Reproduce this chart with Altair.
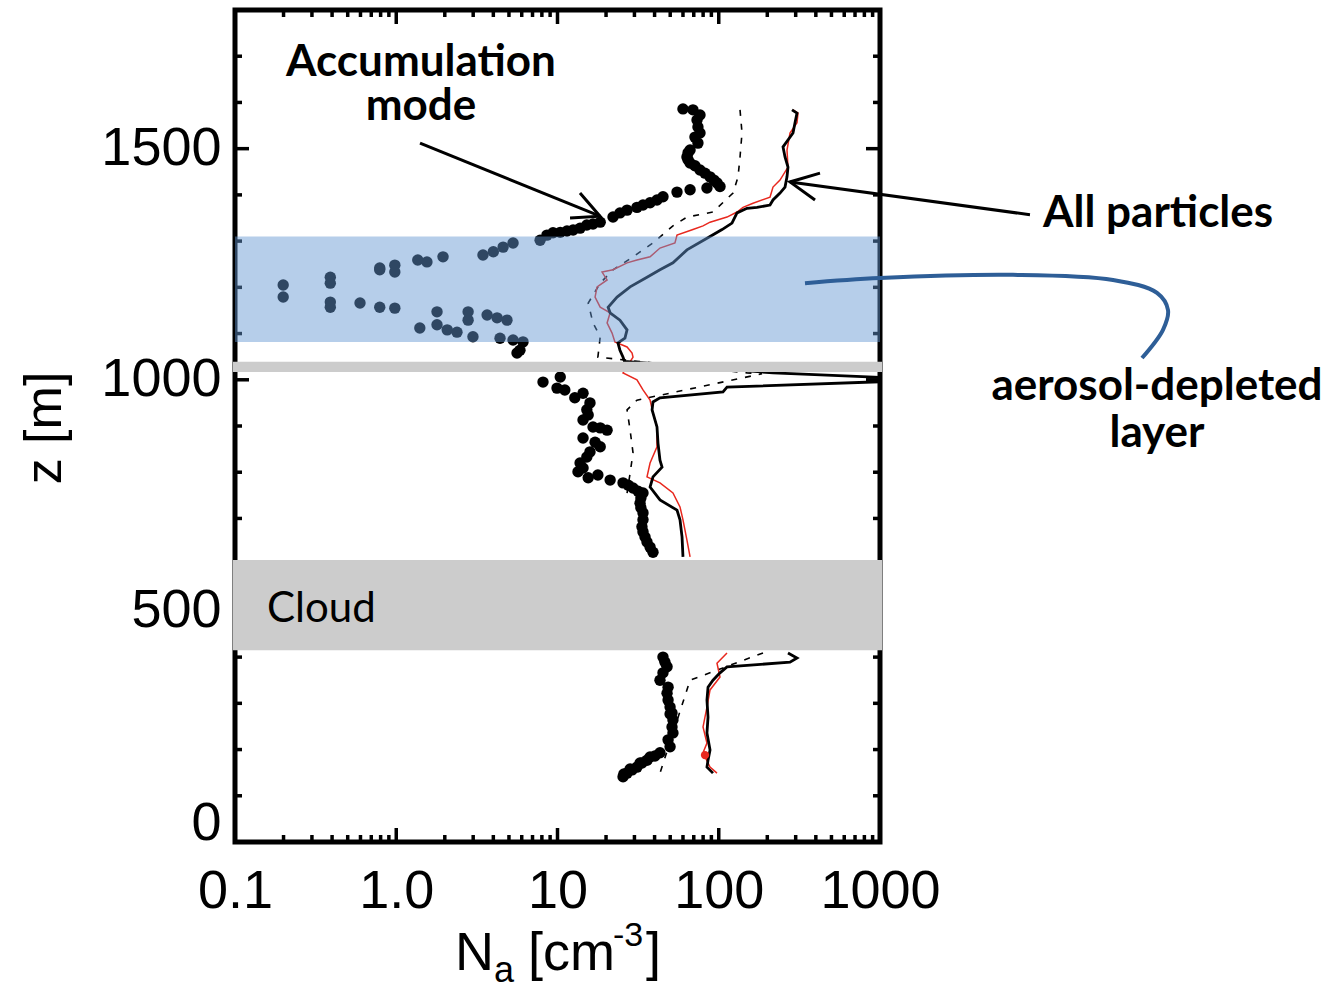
import altair as alt
import pandas as pd

W, H = 645, 832

# ---------------- data ----------------
# Accumulation-mode concentration (big dots)
acc_x = [60.0, 69.2, 76.5, 73.3, 74.3, 76.5, 71.2, 74.3, 66.4, 64.5,
         63.5, 64.5, 66.4, 71.2, 76.5, 82.2, 88.3, 93.4, 97.5, 101.8,
         84.5, 66.4, 55.1, 45.1, 41.4, 37.5, 33.9, 31.1, 27.0, 24.4,
         22.1, 18.4, 16.6, 15.2, 13.8, 12.5, 11.45, 10.4, 9.38, 8.6,
         7.8, 5.3, 4.6, 4.0, 3.45, 1.95, 1.55, 1.36, 0.98, 0.98,
         0.79, 0.79, 0.39, 0.39, 0.199, 0.199, 0.39, 0.39, 0.596, 0.79,
         0.98, 1.79, 1.79, 1.40, 2.07, 2.38, 2.79, 2.79, 2.99, 3.66,
         4.22, 4.86, 4.40, 5.3, 6.11, 5.85, 5.61,
         8.13, 10.4, 9.93, 11.1, 14.4, 12.8, 15.9, 15.2, 15.5, 14.4,
         16.6, 18.4, 20.3, 14.4, 17.1, 18.4, 15.9, 15.2, 13.8, 14.4,
         13.4, 17.8, 15.5, 21.2, 25.5, 27.5, 29.4, 31.6, 33.9, 32.9,
         32.5, 32.9, 33.9, 33.9, 33.4, 33.9, 34.9, 35.9, 37.5, 39.1,
         45.1, 46.4, 47.8, 45.1, 43.2, 48.5, 47.8, 48.5, 49.9, 49.9,
         51.3, 52.0, 51.3, 52.0, 48.5, 49.9, 43.2, 40.2, 37.5, 35.9,
         33.4, 32.5, 31.1, 29.0, 28.2, 27.0, 25.8, 25.5]
acc_z = [1586, 1584, 1573, 1562, 1547, 1534, 1525, 1512, 1497, 1491,
         1482, 1476, 1469, 1463, 1454, 1447, 1439, 1432, 1426, 1418,
         1415, 1411, 1406, 1396, 1389, 1383, 1378, 1373, 1367, 1361,
         1352, 1341, 1337, 1335, 1328, 1324, 1322, 1319, 1318, 1313,
         1302, 1296, 1287, 1277, 1270, 1266, 1255, 1259, 1248, 1233,
         1242, 1238, 1222, 1209, 1205, 1179, 1168, 1157, 1166, 1157,
         1155, 1147, 1119, 1112, 1108, 1103, 1147, 1129, 1093, 1140,
         1134, 1129, 1090, 1086, 1082, 1064, 1058,
         995, 1006, 982, 978, 971, 961, 950, 935, 924, 913,
         898, 896, 891, 874, 865, 855, 844, 833, 820, 809,
         801, 794, 788, 783, 777, 772, 766, 759, 755, 744,
         733, 723, 712, 697, 682, 671, 660, 649, 638, 627,
         400, 389, 379, 366, 350, 335, 322, 307, 292, 277,
         279, 264, 249, 236, 221, 206, 193, 186, 184, 177,
         171, 171, 162, 156, 158, 149, 147, 141]

# All particles, solid black line (above cloud / below cloud)
all_up_x = [284.6, 305.7, 297.1, 288.8, 250.3, 257.6, 268.8, 265.0, 257.6, 239.8,
            217.0, 207.9, 172.7, 149.7, 129.8, 120.8, 104.8, 88.3, 63.5, 52.0,
            43.2, 35.9, 28.2, 23.4, 20.6, 21.2, 24.4, 27.0, 26.2, 23.7,
            24.4, 25.5, 26.0, 217.0, 2190.0, 112.5, 106.3, 43.2, 39.1, 38.6,
            41.4, 42.0, 43.2, 44.5, 39.1, 37.5, 43.2, 55.1, 57.5, 59.2, 60.0]
all_up_z = [1584, 1577, 1556, 1534, 1504, 1482, 1460, 1439, 1417, 1404,
            1389, 1378, 1373, 1371, 1361, 1339, 1325, 1310, 1281, 1253,
            1238, 1222, 1201, 1179, 1157, 1145, 1129, 1108, 1090, 1080,
            1064, 1049, 1040, 1015, 1000, 984, 974, 961, 952, 935,
            898, 863, 826, 811, 790, 768, 740, 718, 697, 660, 617]
all_lo_x = [268.8, 305.7, 276.6, 112.5, 101.8, 92.1, 85.8, 84.5, 85.8, 84.5,
            88.3, 85.8, 84.5, 92.1]
all_lo_z = [409, 398, 389, 379, 366, 350, 335, 307, 270, 236,
            199, 177, 162, 149]

# Second total-concentration profile, thin red line
red_up_x = [288.8, 310.1, 305.7, 276.6, 265.0, 268.8, 239.8, 217.0, 207.9, 163.1,
            141.4, 129.8, 112.5, 88.3, 79.9, 69.2, 55.1, 53.5, 43.2, 37.5,
            31.1, 27.0, 22.1, 18.9, 20.3, 17.6, 17.1, 18.4, 21.2, 20.3,
            21.8, 22.7, 27.0, 29.0, 29.4, 25.5, 31.1, 33.9, 37.5, 39.1,
            41.4, 41.4, 37.5, 35.9, 43.2, 52.0, 57.5, 60.0, 63.5, 66.4]
red_up_z = [1584, 1577, 1556, 1534, 1497, 1460, 1432, 1417, 1395, 1382,
            1373, 1363, 1352, 1341, 1333, 1325, 1313, 1296, 1285, 1266,
            1259, 1253, 1238, 1233, 1216, 1201, 1179, 1157, 1145, 1123,
            1101, 1082, 1071, 1058, 1049, 1015, 1000, 978, 956, 928,
            898, 855, 820, 790, 777, 755, 725, 697, 653, 617]
red_lo_x = [112.5, 97.5, 101.8, 88.3, 84.5, 79.9, 84.5, 79.9, 88.3, 97.5]
red_lo_z = [409, 387, 357, 329, 292, 249, 214, 193, 162, 149]
red_dot_x = [82.2]
red_dot_z = [188]

# Dashed profile
dash_up_x = [135.5, 139.4, 135.5, 131.7, 122.6, 92.1, 63.5, 52.0, 39.1, 29.4,
             22.1, 18.4, 15.5, 16.6, 18.4, 17.8, 150.0, 185.5, 31.1, 27.0,
             28.2, 29.4, 28.2, 27.0]
dash_up_z = [1584, 1534, 1482, 1439, 1404, 1363, 1352, 1333, 1296, 1266,
             1238, 1209, 1166, 1123, 1093, 1049, 1015, 1013, 956, 935,
             891, 842, 798, 755]
dash_lo_x = [188.1, 66.4, 43.2]
dash_lo_z = [409, 350, 149]

# Shaded layers: aerosol-depleted layer, thin grey strip, cloud
band_lo = [1082, 1017, 415]
band_hi = [1310, 1039, 610]
band_kind = ["depleted", "strip", "cloud"]

# Axis ticks
y_major = [500, 1000, 1500]
y_minor = [100, 200, 300, 400, 600, 700, 800, 900, 1100, 1200, 1300, 1400, 1600, 1700]
x_major = [1, 10, 100]
x_minor = [m * d for d in (0.1, 1, 10, 100) for m in range(2, 10)]
x_labels = [0.1, 1, 10, 100, 1000]
y_labels = [0, 500, 1000, 1500]

# Annotation geometry (data units)
arrow_g = ["a1", "a1", "a2", "a2", "a2", "b1", "b1", "b2", "b2", "b2"]
arrow_x = [1.404, 18.35, 13.79, 18.35, 11.96, 8511, 276.6, 424.6, 276.6, 395.4]
arrow_z = [1512, 1354, 1404, 1354, 1350, 1357, 1428, 1447, 1428, 1389]
curve_x = [342.7, 1000, 6679, 27861, 52220, 61094, 56885, 42150]
curve_z = [1209, 1220, 1227, 1216, 1188, 1151, 1108, 1047]

# ---------------- build ----------------
xs = alt.Scale(type="log", domain=[0.1, 1000], nice=False)
ys = alt.Scale(domain=[0, 1800], nice=False, zero=False)

x_axis = alt.Axis(values=x_labels, ticks=False, domain=False, grid=False, title=None,
                  labelExpr="datum.value == 0.1 ? '0.1' : datum.value == 1 ? '1.0' : format(datum.value, 'd')",
                  labelFont="Liberation Sans", labelFontSize=54, labelColor="black",
                  labelPadding=22, labelOverlap=False, labelBound=False, labelFlush=False,
                  tickSize=0)
y_axis = alt.Axis(values=y_labels, ticks=False, domain=False, grid=False, title=None,
                  format="d",
                  labelFont="Liberation Sans", labelFontSize=54, labelColor="black",
                  labelPadding=14, labelOverlap=False, labelFlush=True, labelFlushOffset=8,
                  tickSize=0)


def X(field="x:Q"):
    return alt.X(field, scale=xs, axis=x_axis)


def Y(field="z:Q"):
    return alt.Y(field, scale=ys, axis=y_axis)


def segs(*parts):
    rows = []
    for s, (xx, zz) in enumerate(parts):
        for i, (a, b) in enumerate(zip(xx, zz)):
            rows.append({"x": a, "z": b, "seg": s, "i": i})
    return pd.DataFrame(rows)


acc_df = pd.DataFrame({"x": acc_x, "z": acc_z})
pts = alt.Chart(acc_df).mark_circle(size=130, color="black", opacity=1).encode(
    x=X(), y=Y())

dash = alt.Chart(segs((dash_up_x, dash_up_z), (dash_lo_x, dash_lo_z))).mark_line(
    color="black", strokeWidth=1.6, strokeDash=[6, 8], clip=True).encode(
    x=X(), y=Y(), detail="seg:N", order="i:Q")
red = alt.Chart(segs((red_up_x, red_up_z), (red_lo_x, red_lo_z))).mark_line(
    color="#e8281e", strokeWidth=1.5, clip=True).encode(
    x=X(), y=Y(), detail="seg:N", order="i:Q")
solid = alt.Chart(segs((all_up_x, all_up_z), (all_lo_x, all_lo_z))).mark_line(
    color="black", strokeWidth=2.8, clip=True).encode(
    x=X(), y=Y(), detail="seg:N", order="i:Q")
red_dot = alt.Chart(pd.DataFrame({"x": red_dot_x, "z": red_dot_z})).mark_circle(
    size=70, color="#e8281e", opacity=1).encode(x=X(), y=Y())

tick_layers = []
for vals, ln in ((y_major, 14), (y_minor, 7)):
    d = pd.DataFrame({"z": vals})
    tick_layers.append(alt.Chart(d).mark_rule(color="black", strokeWidth=3.5).encode(
        y=Y(), x=alt.value(0), x2=alt.value(ln)))
    tick_layers.append(alt.Chart(d).mark_rule(color="black", strokeWidth=3.5).encode(
        y=Y(), x=alt.value(W), x2=alt.value(W - ln)))
for vals, ln in ((x_major, 14), (x_minor, 7)):
    d = pd.DataFrame({"x": vals})
    tick_layers.append(alt.Chart(d).mark_rule(color="black", strokeWidth=3.5).encode(
        x=X(), y=alt.value(H), y2=alt.value(H - ln)))
    tick_layers.append(alt.Chart(d).mark_rule(color="black", strokeWidth=3.5).encode(
        x=X(), y=alt.value(0), y2=alt.value(ln)))

band_df = pd.DataFrame({"lo": band_lo, "hi": band_hi, "kind": band_kind})
blue_band = alt.Chart(band_df).transform_filter("datum.kind == 'depleted'").mark_rect(
    color="#6496d2", opacity=0.47).encode(
    y=Y("lo:Q"), y2="hi:Q", x=alt.value(0), x2=alt.value(W))
grey_band = alt.Chart(band_df).transform_filter("datum.kind != 'depleted'").mark_rect(
    color="#cccccc", opacity=1).encode(
    y=Y("lo:Q"), y2="hi:Q", x=alt.value(-2), x2=alt.value(W + 2))

arrows = alt.Chart(pd.DataFrame({"x": arrow_x, "z": arrow_z, "g": arrow_g,
                                 "i": list(range(len(arrow_x)))})).mark_line(
    color="black", strokeWidth=3, clip=False).encode(x=X(), y=Y(), detail="g:N", order="i:Q")
curve = alt.Chart(pd.DataFrame({"x": curve_x, "z": curve_z,
                                "i": list(range(len(curve_x)))})).mark_line(
    color="#2e5e97", strokeWidth=4, clip=False, interpolate="catmull-rom").encode(
    x=X(), y=Y(), order="i:Q")

txt_df = pd.DataFrame({
    "x": [1.424, 1.424, 10255, 52220, 52220],
    "z": [1685, 1590, 1359, 984, 883],
    "t": ["Accumulation", "mode", "All particles", "aerosol-depleted", "layer"],
    "a": ["center", "center", "left", "center", "center"],
})
bold_c = alt.Chart(txt_df).transform_filter("datum.a == 'center'").mark_text(
    font="Lato", fontWeight="bold", fontSize=44, color="black", align="center",
    baseline="middle", clip=False).encode(x=X(), y=Y(), text="t:N")
bold_l = alt.Chart(txt_df).transform_filter("datum.a == 'left'").mark_text(
    font="Lato", fontWeight="bold", fontSize=44, color="black", align="left",
    baseline="middle", clip=False).encode(x=X(), y=Y(), text="t:N")
cloud_txt = alt.Chart(pd.DataFrame({"x": [0.158], "z": [504], "t": ["Cloud"]})).mark_text(
    font="Lato", fontSize=42, color="black", align="left", baseline="middle").encode(
    x=X(), y=Y(), text="t:N")


# axis titles (with sub/superscripts)
def label(t, px, py, size, align="left", baseline="alphabetic", angle=0):
    return alt.Chart(pd.DataFrame({"t": [t]})).mark_text(
        font="Liberation Sans", fontSize=size, color="black", align=align,
        baseline=baseline, angle=angle).encode(
        x=alt.value(px), y=alt.value(py), text="t:N")


titles = [
    label("N", 220, 960, 54),
    label("a", 259, 972, 36),
    label("[cm", 293, 960, 54),
    label("-3", 378, 936, 34),
    label("]", 411, 960, 54),
    label("z [m]", -190, 418, 52, align="center", baseline="middle", angle=270),
]

chart = alt.layer(
    pts, dash, red, solid, red_dot, *tick_layers, blue_band, grey_band,
    arrows, curve, bold_c, bold_l, cloud_txt, *titles
).properties(
    width=W, height=H,
    autosize=alt.AutoSizeParams(type="none"),
    padding={"left": 235, "top": 10, "right": 452, "bottom": 143},
    background="white",
).configure_view(stroke="black", strokeWidth=5)

chart.save("out.html", embed_options={"renderer": "svg", "actions": False})
